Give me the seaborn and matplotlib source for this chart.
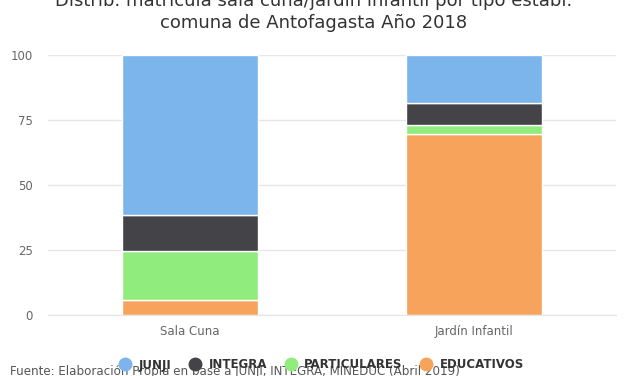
import pandas as pd
import matplotlib.pyplot as plt
import seaborn as sns
from matplotlib.lines import Line2D


# ----------------------------
# Data
# ----------------------------

categories = ["Sala Cuna", "Jardín Infantil"]
series_names = ["JUNJI", "INTEGRA", "PARTICULARES", "EDUCATIVOS"]

junji = [61.4, 18.3]
integra = [13.8, 8.7]
particulares = [19.0, 3.5]
educativos = [5.8, 69.5]

colors = ["#7cb5ec", "#434348", "#90ed7d", "#f7a35c"]
y_ticks = [0, 25, 50, 75, 100]

title = "Distrib. matrícula sala cuna/jardín infantil por tipo establ.\ncomuna de Antofagasta Año 2018"
source = "Fuente: Elaboración Propia en base a JUNJI, INTEGRA, MINEDUC (Abril 2019)"


# ----------------------------
# Figure
# ----------------------------

sns.set_style("white")
plt.rcParams['font.family'] = ['DejaVu Sans']

fig = plt.figure(figsize=(6.27, 3.76), dpi=100)
ax = fig.add_axes([48 / 627, 1 - 315 / 376, 568 / 627, 260 / 376])

df = pd.DataFrame({
    "categoria": categories,
    "JUNJI": junji,
    "INTEGRA": integra,
    "PARTICULARES": particulares,
    "EDUCATIVOS": educativos,
})

# stack from the bottom: EDUCATIVOS first, JUNJI on top
bottom = [0.0] * len(categories)
for name, col in reversed(list(zip(series_names, colors))):
    sns.barplot(data=df, x="categoria", y=name, color=col, width=0.48,
                bottom=bottom, edgecolor="white", linewidth=1, ax=ax,
                saturation=1, zorder=3)
    bottom = [b + v for b, v in zip(bottom, df[name])]


# ----------------------------
# Axes styling
# ----------------------------

ax.set_ylim(0, 100)
ax.set_xlim(-0.5, 1.5)
ax.set_yticks(y_ticks)
ax.set_xlabel("")
ax.set_ylabel("")
ax.yaxis.grid(True, color="#e6e6e6", linewidth=1, zorder=0)
ax.xaxis.grid(False)
for s in ["top", "right", "left"]:
    ax.spines[s].set_visible(False)
ax.spines["bottom"].set_color("#e6e6e6")
ax.spines["bottom"].set_linewidth(1)
ax.tick_params(axis="y", length=0, pad=11, labelsize=8.5, labelcolor="#666666")
ax.tick_params(axis="x", length=0, pad=7, labelsize=8.5, labelcolor="#666666")

fig.text(0.5, 1 - 32 / 376, title, ha="center", va="bottom", fontsize=13,
         color="#333333", linespacing=1.3)


# ----------------------------
# Legend and source
# ----------------------------

handles = [Line2D([], [], marker="o", linestyle="", markersize=9,
                  markerfacecolor=c, markeredgecolor=c) for c in colors]
fig.legend(handles, series_names, loc="center", bbox_to_anchor=(0.508, 1 - 365 / 376),
           ncol=4, frameon=False, handletextpad=0.15, columnspacing=1.0,
           prop={"weight": "bold", "size": 8.5}, labelcolor="#333333")

fig.text(10 / 627, 1 - 372 / 376, source, ha="left", va="center", fontsize=8.6,
         color="#555555")

plt.savefig("out.png", dpi=100)
plt.close()
